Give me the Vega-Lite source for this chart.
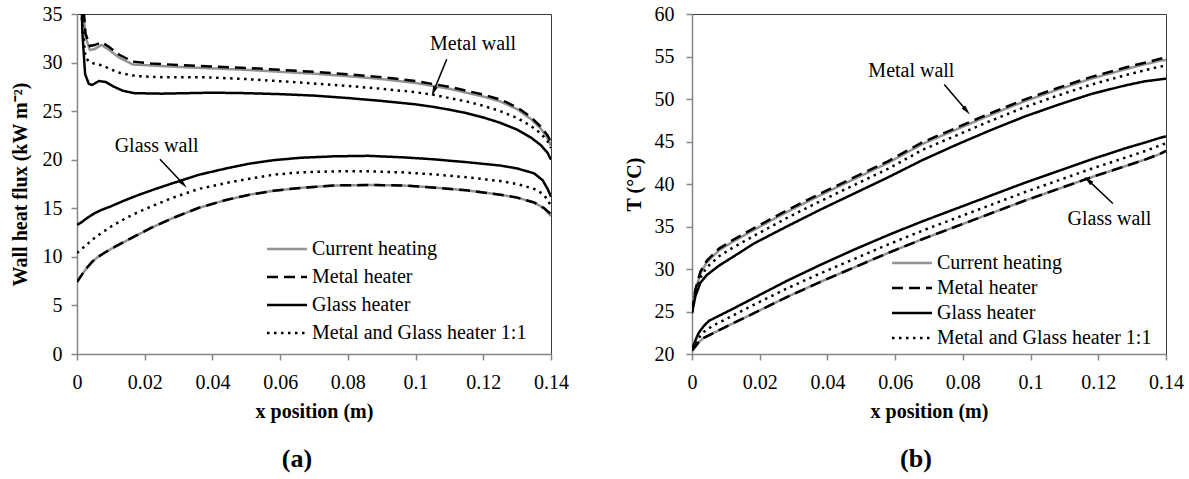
{
  "$schema": "https://vega.github.io/schema/vega-lite/v6.json",
  "padding": {"left": 9, "top": 3, "right": 0, "bottom": 0},
  "config": {
    "font": "Liberation Serif",
    "view": {"stroke": "#3a3a3a", "strokeWidth": 1},
    "axis": {
      "grid": false,
      "zindex": 1,
      "domainColor": "#868686",
      "domainWidth": 1.5,
      "tickColor": "#868686",
      "tickWidth": 1.5,
      "tickSize": 6,
      "labelFont": "Liberation Serif",
      "labelFontSize": 20,
      "labelColor": "#000000",
      "labelFlush": false,
      "labelOverlap": false,
      "titleFont": "Liberation Serif",
      "titleFontSize": 20,
      "titleFontWeight": "bold",
      "titleColor": "#000000"
    },
    "axisX": {"labelPadding": 12, "titlePadding": 9},
    "legend": {
      "orient": "none",
      "symbolType": "M-1.25,0H3.75",
      "symbolSize": 256,
      "symbolStrokeWidth": 2.5,
      "symbolOffset": 0,
      "labelFont": "Liberation Serif",
      "labelFontSize": 20,
      "labelColor": "#000000",
      "labelLimit": 400,
      "labelOffset": 25
    },
    "title": {"font": "Liberation Serif", "fontSize": 26, "fontWeight": "bold", "color": "#000000", "orient": "bottom", "anchor": "middle"},
    "concat": {"spacing": 54}
  },
  "datasets": {
    "flux": [
      {"heater": "Current heating", "wall": "Metal wall", "x": 0.0006, "y": 44},
      {"heater": "Current heating", "wall": "Metal wall", "x": 0.0015, "y": 37},
      {"heater": "Current heating", "wall": "Metal wall", "x": 0.0025, "y": 32.6},
      {"heater": "Current heating", "wall": "Metal wall", "x": 0.0038, "y": 31.3},
      {"heater": "Current heating", "wall": "Metal wall", "x": 0.0052, "y": 31.4},
      {"heater": "Current heating", "wall": "Metal wall", "x": 0.0073, "y": 31.8},
      {"heater": "Current heating", "wall": "Metal wall", "x": 0.0095, "y": 31.3},
      {"heater": "Current heating", "wall": "Metal wall", "x": 0.0125, "y": 30.5},
      {"heater": "Current heating", "wall": "Metal wall", "x": 0.0165, "y": 29.8},
      {"heater": "Current heating", "wall": "Metal wall", "x": 0.022, "y": 29.7},
      {"heater": "Current heating", "wall": "Metal wall", "x": 0.03, "y": 29.55},
      {"heater": "Current heating", "wall": "Metal wall", "x": 0.04, "y": 29.4},
      {"heater": "Current heating", "wall": "Metal wall", "x": 0.05, "y": 29.25},
      {"heater": "Current heating", "wall": "Metal wall", "x": 0.06, "y": 29.05},
      {"heater": "Current heating", "wall": "Metal wall", "x": 0.07, "y": 28.85},
      {"heater": "Current heating", "wall": "Metal wall", "x": 0.08, "y": 28.6},
      {"heater": "Current heating", "wall": "Metal wall", "x": 0.09, "y": 28.3},
      {"heater": "Current heating", "wall": "Metal wall", "x": 0.1, "y": 27.9},
      {"heater": "Current heating", "wall": "Metal wall", "x": 0.105, "y": 27.6},
      {"heater": "Current heating", "wall": "Metal wall", "x": 0.11, "y": 27.3},
      {"heater": "Current heating", "wall": "Metal wall", "x": 0.115, "y": 26.9},
      {"heater": "Current heating", "wall": "Metal wall", "x": 0.12, "y": 26.5},
      {"heater": "Current heating", "wall": "Metal wall", "x": 0.125, "y": 26.0},
      {"heater": "Current heating", "wall": "Metal wall", "x": 0.13, "y": 25.2},
      {"heater": "Current heating", "wall": "Metal wall", "x": 0.134, "y": 24.2},
      {"heater": "Current heating", "wall": "Metal wall", "x": 0.137, "y": 23.2},
      {"heater": "Current heating", "wall": "Metal wall", "x": 0.139, "y": 22.2},
      {"heater": "Current heating", "wall": "Metal wall", "x": 0.14, "y": 21.4},
      {"heater": "Current heating", "wall": "Glass wall", "x": 0, "y": 7.4},
      {"heater": "Current heating", "wall": "Glass wall", "x": 0.0015, "y": 8.2},
      {"heater": "Current heating", "wall": "Glass wall", "x": 0.003, "y": 8.9},
      {"heater": "Current heating", "wall": "Glass wall", "x": 0.0045, "y": 9.5},
      {"heater": "Current heating", "wall": "Glass wall", "x": 0.006, "y": 9.95},
      {"heater": "Current heating", "wall": "Glass wall", "x": 0.0085, "y": 10.5},
      {"heater": "Current heating", "wall": "Glass wall", "x": 0.011, "y": 11.0},
      {"heater": "Current heating", "wall": "Glass wall", "x": 0.014, "y": 11.55},
      {"heater": "Current heating", "wall": "Glass wall", "x": 0.017, "y": 12.1},
      {"heater": "Current heating", "wall": "Glass wall", "x": 0.022, "y": 13.0},
      {"heater": "Current heating", "wall": "Glass wall", "x": 0.028, "y": 13.95},
      {"heater": "Current heating", "wall": "Glass wall", "x": 0.036, "y": 15.05},
      {"heater": "Current heating", "wall": "Glass wall", "x": 0.044, "y": 15.85},
      {"heater": "Current heating", "wall": "Glass wall", "x": 0.051, "y": 16.4},
      {"heater": "Current heating", "wall": "Glass wall", "x": 0.058, "y": 16.8},
      {"heater": "Current heating", "wall": "Glass wall", "x": 0.066, "y": 17.1},
      {"heater": "Current heating", "wall": "Glass wall", "x": 0.076, "y": 17.35},
      {"heater": "Current heating", "wall": "Glass wall", "x": 0.086, "y": 17.4},
      {"heater": "Current heating", "wall": "Glass wall", "x": 0.096, "y": 17.35},
      {"heater": "Current heating", "wall": "Glass wall", "x": 0.105, "y": 17.15},
      {"heater": "Current heating", "wall": "Glass wall", "x": 0.115, "y": 16.85},
      {"heater": "Current heating", "wall": "Glass wall", "x": 0.125, "y": 16.4},
      {"heater": "Current heating", "wall": "Glass wall", "x": 0.13, "y": 16.1},
      {"heater": "Current heating", "wall": "Glass wall", "x": 0.135, "y": 15.6},
      {"heater": "Current heating", "wall": "Glass wall", "x": 0.138, "y": 15.0},
      {"heater": "Current heating", "wall": "Glass wall", "x": 0.14, "y": 14.2},
      {"heater": "Metal heater", "wall": "Metal wall", "x": 0.0006, "y": 44},
      {"heater": "Metal heater", "wall": "Metal wall", "x": 0.0015, "y": 37.5},
      {"heater": "Metal heater", "wall": "Metal wall", "x": 0.0025, "y": 33.0},
      {"heater": "Metal heater", "wall": "Metal wall", "x": 0.0038, "y": 31.7},
      {"heater": "Metal heater", "wall": "Metal wall", "x": 0.0052, "y": 31.8},
      {"heater": "Metal heater", "wall": "Metal wall", "x": 0.0073, "y": 32.1},
      {"heater": "Metal heater", "wall": "Metal wall", "x": 0.0095, "y": 31.6},
      {"heater": "Metal heater", "wall": "Metal wall", "x": 0.0125, "y": 30.8},
      {"heater": "Metal heater", "wall": "Metal wall", "x": 0.0165, "y": 30.1},
      {"heater": "Metal heater", "wall": "Metal wall", "x": 0.022, "y": 29.9},
      {"heater": "Metal heater", "wall": "Metal wall", "x": 0.03, "y": 29.75},
      {"heater": "Metal heater", "wall": "Metal wall", "x": 0.04, "y": 29.6},
      {"heater": "Metal heater", "wall": "Metal wall", "x": 0.05, "y": 29.45},
      {"heater": "Metal heater", "wall": "Metal wall", "x": 0.06, "y": 29.25},
      {"heater": "Metal heater", "wall": "Metal wall", "x": 0.07, "y": 29.05},
      {"heater": "Metal heater", "wall": "Metal wall", "x": 0.08, "y": 28.8},
      {"heater": "Metal heater", "wall": "Metal wall", "x": 0.09, "y": 28.5},
      {"heater": "Metal heater", "wall": "Metal wall", "x": 0.1, "y": 28.1},
      {"heater": "Metal heater", "wall": "Metal wall", "x": 0.105, "y": 27.8},
      {"heater": "Metal heater", "wall": "Metal wall", "x": 0.11, "y": 27.5},
      {"heater": "Metal heater", "wall": "Metal wall", "x": 0.115, "y": 27.1},
      {"heater": "Metal heater", "wall": "Metal wall", "x": 0.12, "y": 26.7},
      {"heater": "Metal heater", "wall": "Metal wall", "x": 0.125, "y": 26.2},
      {"heater": "Metal heater", "wall": "Metal wall", "x": 0.13, "y": 25.4},
      {"heater": "Metal heater", "wall": "Metal wall", "x": 0.134, "y": 24.4},
      {"heater": "Metal heater", "wall": "Metal wall", "x": 0.137, "y": 23.4},
      {"heater": "Metal heater", "wall": "Metal wall", "x": 0.139, "y": 22.5},
      {"heater": "Metal heater", "wall": "Metal wall", "x": 0.14, "y": 21.8},
      {"heater": "Metal heater", "wall": "Glass wall", "x": 0, "y": 7.4},
      {"heater": "Metal heater", "wall": "Glass wall", "x": 0.0015, "y": 8.2},
      {"heater": "Metal heater", "wall": "Glass wall", "x": 0.003, "y": 8.9},
      {"heater": "Metal heater", "wall": "Glass wall", "x": 0.0045, "y": 9.5},
      {"heater": "Metal heater", "wall": "Glass wall", "x": 0.006, "y": 9.95},
      {"heater": "Metal heater", "wall": "Glass wall", "x": 0.0085, "y": 10.5},
      {"heater": "Metal heater", "wall": "Glass wall", "x": 0.011, "y": 11.0},
      {"heater": "Metal heater", "wall": "Glass wall", "x": 0.014, "y": 11.55},
      {"heater": "Metal heater", "wall": "Glass wall", "x": 0.017, "y": 12.1},
      {"heater": "Metal heater", "wall": "Glass wall", "x": 0.022, "y": 13.0},
      {"heater": "Metal heater", "wall": "Glass wall", "x": 0.028, "y": 13.95},
      {"heater": "Metal heater", "wall": "Glass wall", "x": 0.036, "y": 15.05},
      {"heater": "Metal heater", "wall": "Glass wall", "x": 0.044, "y": 15.85},
      {"heater": "Metal heater", "wall": "Glass wall", "x": 0.051, "y": 16.4},
      {"heater": "Metal heater", "wall": "Glass wall", "x": 0.058, "y": 16.8},
      {"heater": "Metal heater", "wall": "Glass wall", "x": 0.066, "y": 17.1},
      {"heater": "Metal heater", "wall": "Glass wall", "x": 0.076, "y": 17.35},
      {"heater": "Metal heater", "wall": "Glass wall", "x": 0.086, "y": 17.4},
      {"heater": "Metal heater", "wall": "Glass wall", "x": 0.096, "y": 17.35},
      {"heater": "Metal heater", "wall": "Glass wall", "x": 0.105, "y": 17.15},
      {"heater": "Metal heater", "wall": "Glass wall", "x": 0.115, "y": 16.85},
      {"heater": "Metal heater", "wall": "Glass wall", "x": 0.125, "y": 16.4},
      {"heater": "Metal heater", "wall": "Glass wall", "x": 0.13, "y": 16.1},
      {"heater": "Metal heater", "wall": "Glass wall", "x": 0.135, "y": 15.6},
      {"heater": "Metal heater", "wall": "Glass wall", "x": 0.138, "y": 15.0},
      {"heater": "Metal heater", "wall": "Glass wall", "x": 0.14, "y": 14.4},
      {"heater": "Glass heater", "wall": "Metal wall", "x": 0.0008, "y": 44},
      {"heater": "Glass heater", "wall": "Metal wall", "x": 0.0016, "y": 33},
      {"heater": "Glass heater", "wall": "Metal wall", "x": 0.0024, "y": 28.8},
      {"heater": "Glass heater", "wall": "Metal wall", "x": 0.0035, "y": 27.8},
      {"heater": "Glass heater", "wall": "Metal wall", "x": 0.0045, "y": 27.7},
      {"heater": "Glass heater", "wall": "Metal wall", "x": 0.0065, "y": 28.1},
      {"heater": "Glass heater", "wall": "Metal wall", "x": 0.0085, "y": 28.0},
      {"heater": "Glass heater", "wall": "Metal wall", "x": 0.011, "y": 27.5},
      {"heater": "Glass heater", "wall": "Metal wall", "x": 0.0135, "y": 27.1},
      {"heater": "Glass heater", "wall": "Metal wall", "x": 0.017, "y": 26.85},
      {"heater": "Glass heater", "wall": "Metal wall", "x": 0.025, "y": 26.8},
      {"heater": "Glass heater", "wall": "Metal wall", "x": 0.04, "y": 26.9},
      {"heater": "Glass heater", "wall": "Metal wall", "x": 0.05, "y": 26.85},
      {"heater": "Glass heater", "wall": "Metal wall", "x": 0.06, "y": 26.75},
      {"heater": "Glass heater", "wall": "Metal wall", "x": 0.07, "y": 26.6},
      {"heater": "Glass heater", "wall": "Metal wall", "x": 0.08, "y": 26.35},
      {"heater": "Glass heater", "wall": "Metal wall", "x": 0.09, "y": 26.05},
      {"heater": "Glass heater", "wall": "Metal wall", "x": 0.1, "y": 25.7},
      {"heater": "Glass heater", "wall": "Metal wall", "x": 0.105, "y": 25.45},
      {"heater": "Glass heater", "wall": "Metal wall", "x": 0.11, "y": 25.15},
      {"heater": "Glass heater", "wall": "Metal wall", "x": 0.115, "y": 24.8},
      {"heater": "Glass heater", "wall": "Metal wall", "x": 0.12, "y": 24.35},
      {"heater": "Glass heater", "wall": "Metal wall", "x": 0.125, "y": 23.8},
      {"heater": "Glass heater", "wall": "Metal wall", "x": 0.13, "y": 23.1},
      {"heater": "Glass heater", "wall": "Metal wall", "x": 0.134, "y": 22.3},
      {"heater": "Glass heater", "wall": "Metal wall", "x": 0.137, "y": 21.5},
      {"heater": "Glass heater", "wall": "Metal wall", "x": 0.139, "y": 20.7},
      {"heater": "Glass heater", "wall": "Metal wall", "x": 0.14, "y": 20.0},
      {"heater": "Glass heater", "wall": "Glass wall", "x": 0, "y": 13.3},
      {"heater": "Glass heater", "wall": "Glass wall", "x": 0.0015, "y": 13.6},
      {"heater": "Glass heater", "wall": "Glass wall", "x": 0.003, "y": 14.0},
      {"heater": "Glass heater", "wall": "Glass wall", "x": 0.005, "y": 14.45},
      {"heater": "Glass heater", "wall": "Glass wall", "x": 0.007, "y": 14.8},
      {"heater": "Glass heater", "wall": "Glass wall", "x": 0.01, "y": 15.2},
      {"heater": "Glass heater", "wall": "Glass wall", "x": 0.014, "y": 15.8},
      {"heater": "Glass heater", "wall": "Glass wall", "x": 0.018, "y": 16.35},
      {"heater": "Glass heater", "wall": "Glass wall", "x": 0.022, "y": 16.85},
      {"heater": "Glass heater", "wall": "Glass wall", "x": 0.028, "y": 17.55},
      {"heater": "Glass heater", "wall": "Glass wall", "x": 0.036, "y": 18.45},
      {"heater": "Glass heater", "wall": "Glass wall", "x": 0.044, "y": 19.1},
      {"heater": "Glass heater", "wall": "Glass wall", "x": 0.051, "y": 19.6},
      {"heater": "Glass heater", "wall": "Glass wall", "x": 0.058, "y": 19.95},
      {"heater": "Glass heater", "wall": "Glass wall", "x": 0.066, "y": 20.2},
      {"heater": "Glass heater", "wall": "Glass wall", "x": 0.076, "y": 20.35},
      {"heater": "Glass heater", "wall": "Glass wall", "x": 0.086, "y": 20.4},
      {"heater": "Glass heater", "wall": "Glass wall", "x": 0.096, "y": 20.25},
      {"heater": "Glass heater", "wall": "Glass wall", "x": 0.105, "y": 20.05},
      {"heater": "Glass heater", "wall": "Glass wall", "x": 0.115, "y": 19.75},
      {"heater": "Glass heater", "wall": "Glass wall", "x": 0.125, "y": 19.4},
      {"heater": "Glass heater", "wall": "Glass wall", "x": 0.13, "y": 19.1},
      {"heater": "Glass heater", "wall": "Glass wall", "x": 0.135, "y": 18.6},
      {"heater": "Glass heater", "wall": "Glass wall", "x": 0.1375, "y": 17.9},
      {"heater": "Glass heater", "wall": "Glass wall", "x": 0.139, "y": 17.0},
      {"heater": "Glass heater", "wall": "Glass wall", "x": 0.14, "y": 16.2},
      {"heater": "Metal and Glass heater 1:1", "wall": "Metal wall", "x": 0.0006, "y": 44},
      {"heater": "Metal and Glass heater 1:1", "wall": "Metal wall", "x": 0.0015, "y": 34},
      {"heater": "Metal and Glass heater 1:1", "wall": "Metal wall", "x": 0.0025, "y": 30.6},
      {"heater": "Metal and Glass heater 1:1", "wall": "Metal wall", "x": 0.0035, "y": 30.1},
      {"heater": "Metal and Glass heater 1:1", "wall": "Metal wall", "x": 0.005, "y": 29.9},
      {"heater": "Metal and Glass heater 1:1", "wall": "Metal wall", "x": 0.0075, "y": 29.7},
      {"heater": "Metal and Glass heater 1:1", "wall": "Metal wall", "x": 0.01, "y": 29.3},
      {"heater": "Metal and Glass heater 1:1", "wall": "Metal wall", "x": 0.013, "y": 28.9},
      {"heater": "Metal and Glass heater 1:1", "wall": "Metal wall", "x": 0.0176, "y": 28.6},
      {"heater": "Metal and Glass heater 1:1", "wall": "Metal wall", "x": 0.025, "y": 28.5},
      {"heater": "Metal and Glass heater 1:1", "wall": "Metal wall", "x": 0.037, "y": 28.5},
      {"heater": "Metal and Glass heater 1:1", "wall": "Metal wall", "x": 0.05, "y": 28.3},
      {"heater": "Metal and Glass heater 1:1", "wall": "Metal wall", "x": 0.066, "y": 27.95},
      {"heater": "Metal and Glass heater 1:1", "wall": "Metal wall", "x": 0.08, "y": 27.6},
      {"heater": "Metal and Glass heater 1:1", "wall": "Metal wall", "x": 0.09, "y": 27.3},
      {"heater": "Metal and Glass heater 1:1", "wall": "Metal wall", "x": 0.1, "y": 26.95},
      {"heater": "Metal and Glass heater 1:1", "wall": "Metal wall", "x": 0.105, "y": 26.7},
      {"heater": "Metal and Glass heater 1:1", "wall": "Metal wall", "x": 0.11, "y": 26.35},
      {"heater": "Metal and Glass heater 1:1", "wall": "Metal wall", "x": 0.115, "y": 26.0},
      {"heater": "Metal and Glass heater 1:1", "wall": "Metal wall", "x": 0.12, "y": 25.55},
      {"heater": "Metal and Glass heater 1:1", "wall": "Metal wall", "x": 0.125, "y": 25.0},
      {"heater": "Metal and Glass heater 1:1", "wall": "Metal wall", "x": 0.13, "y": 24.3},
      {"heater": "Metal and Glass heater 1:1", "wall": "Metal wall", "x": 0.134, "y": 23.5},
      {"heater": "Metal and Glass heater 1:1", "wall": "Metal wall", "x": 0.137, "y": 22.7},
      {"heater": "Metal and Glass heater 1:1", "wall": "Metal wall", "x": 0.139, "y": 21.9},
      {"heater": "Metal and Glass heater 1:1", "wall": "Metal wall", "x": 0.14, "y": 21.2},
      {"heater": "Metal and Glass heater 1:1", "wall": "Glass wall", "x": 0, "y": 10.4},
      {"heater": "Metal and Glass heater 1:1", "wall": "Glass wall", "x": 0.0015, "y": 10.85},
      {"heater": "Metal and Glass heater 1:1", "wall": "Glass wall", "x": 0.003, "y": 11.3},
      {"heater": "Metal and Glass heater 1:1", "wall": "Glass wall", "x": 0.005, "y": 11.9},
      {"heater": "Metal and Glass heater 1:1", "wall": "Glass wall", "x": 0.007, "y": 12.4},
      {"heater": "Metal and Glass heater 1:1", "wall": "Glass wall", "x": 0.01, "y": 13.1},
      {"heater": "Metal and Glass heater 1:1", "wall": "Glass wall", "x": 0.014, "y": 13.9},
      {"heater": "Metal and Glass heater 1:1", "wall": "Glass wall", "x": 0.018, "y": 14.6},
      {"heater": "Metal and Glass heater 1:1", "wall": "Glass wall", "x": 0.022, "y": 15.2},
      {"heater": "Metal and Glass heater 1:1", "wall": "Glass wall", "x": 0.028, "y": 16.05},
      {"heater": "Metal and Glass heater 1:1", "wall": "Glass wall", "x": 0.036, "y": 17.0},
      {"heater": "Metal and Glass heater 1:1", "wall": "Glass wall", "x": 0.044, "y": 17.6},
      {"heater": "Metal and Glass heater 1:1", "wall": "Glass wall", "x": 0.051, "y": 18.05},
      {"heater": "Metal and Glass heater 1:1", "wall": "Glass wall", "x": 0.058, "y": 18.45},
      {"heater": "Metal and Glass heater 1:1", "wall": "Glass wall", "x": 0.066, "y": 18.7},
      {"heater": "Metal and Glass heater 1:1", "wall": "Glass wall", "x": 0.076, "y": 18.8},
      {"heater": "Metal and Glass heater 1:1", "wall": "Glass wall", "x": 0.086, "y": 18.8},
      {"heater": "Metal and Glass heater 1:1", "wall": "Glass wall", "x": 0.096, "y": 18.7},
      {"heater": "Metal and Glass heater 1:1", "wall": "Glass wall", "x": 0.105, "y": 18.5},
      {"heater": "Metal and Glass heater 1:1", "wall": "Glass wall", "x": 0.115, "y": 18.2},
      {"heater": "Metal and Glass heater 1:1", "wall": "Glass wall", "x": 0.125, "y": 17.8},
      {"heater": "Metal and Glass heater 1:1", "wall": "Glass wall", "x": 0.13, "y": 17.5},
      {"heater": "Metal and Glass heater 1:1", "wall": "Glass wall", "x": 0.135, "y": 17.0},
      {"heater": "Metal and Glass heater 1:1", "wall": "Glass wall", "x": 0.1375, "y": 16.5},
      {"heater": "Metal and Glass heater 1:1", "wall": "Glass wall", "x": 0.139, "y": 15.9},
      {"heater": "Metal and Glass heater 1:1", "wall": "Glass wall", "x": 0.14, "y": 15.2}
    ],
    "temp": [
      {"heater": "Current heating", "wall": "Metal wall", "x": 0, "y": 24.9},
      {"heater": "Current heating", "wall": "Metal wall", "x": 0.001, "y": 27.4},
      {"heater": "Current heating", "wall": "Metal wall", "x": 0.0025, "y": 29.5},
      {"heater": "Current heating", "wall": "Metal wall", "x": 0.0044, "y": 30.8},
      {"heater": "Current heating", "wall": "Metal wall", "x": 0.008, "y": 32.2},
      {"heater": "Current heating", "wall": "Metal wall", "x": 0.012, "y": 33.2},
      {"heater": "Current heating", "wall": "Metal wall", "x": 0.0183, "y": 34.6},
      {"heater": "Current heating", "wall": "Metal wall", "x": 0.028, "y": 36.7},
      {"heater": "Current heating", "wall": "Metal wall", "x": 0.038, "y": 38.7},
      {"heater": "Current heating", "wall": "Metal wall", "x": 0.048, "y": 40.6},
      {"heater": "Current heating", "wall": "Metal wall", "x": 0.058, "y": 42.5},
      {"heater": "Current heating", "wall": "Metal wall", "x": 0.068, "y": 44.7},
      {"heater": "Current heating", "wall": "Metal wall", "x": 0.078, "y": 46.4},
      {"heater": "Current heating", "wall": "Metal wall", "x": 0.088, "y": 48.1},
      {"heater": "Current heating", "wall": "Metal wall", "x": 0.098, "y": 49.7},
      {"heater": "Current heating", "wall": "Metal wall", "x": 0.108, "y": 51.1},
      {"heater": "Current heating", "wall": "Metal wall", "x": 0.118, "y": 52.4},
      {"heater": "Current heating", "wall": "Metal wall", "x": 0.128, "y": 53.5},
      {"heater": "Current heating", "wall": "Metal wall", "x": 0.134, "y": 54.1},
      {"heater": "Current heating", "wall": "Metal wall", "x": 0.138, "y": 54.5},
      {"heater": "Current heating", "wall": "Metal wall", "x": 0.14, "y": 54.6},
      {"heater": "Current heating", "wall": "Glass wall", "x": 0, "y": 20.4},
      {"heater": "Current heating", "wall": "Glass wall", "x": 0.001, "y": 20.9},
      {"heater": "Current heating", "wall": "Glass wall", "x": 0.002, "y": 21.4},
      {"heater": "Current heating", "wall": "Glass wall", "x": 0.0035, "y": 21.9},
      {"heater": "Current heating", "wall": "Glass wall", "x": 0.006, "y": 22.4},
      {"heater": "Current heating", "wall": "Glass wall", "x": 0.01, "y": 23.2},
      {"heater": "Current heating", "wall": "Glass wall", "x": 0.0183, "y": 24.8},
      {"heater": "Current heating", "wall": "Glass wall", "x": 0.028, "y": 26.7},
      {"heater": "Current heating", "wall": "Glass wall", "x": 0.038, "y": 28.5},
      {"heater": "Current heating", "wall": "Glass wall", "x": 0.048, "y": 30.2},
      {"heater": "Current heating", "wall": "Glass wall", "x": 0.058, "y": 31.9},
      {"heater": "Current heating", "wall": "Glass wall", "x": 0.068, "y": 33.5},
      {"heater": "Current heating", "wall": "Glass wall", "x": 0.078, "y": 35.0},
      {"heater": "Current heating", "wall": "Glass wall", "x": 0.088, "y": 36.5},
      {"heater": "Current heating", "wall": "Glass wall", "x": 0.098, "y": 38.0},
      {"heater": "Current heating", "wall": "Glass wall", "x": 0.108, "y": 39.4},
      {"heater": "Current heating", "wall": "Glass wall", "x": 0.118, "y": 40.8},
      {"heater": "Current heating", "wall": "Glass wall", "x": 0.128, "y": 42.1},
      {"heater": "Current heating", "wall": "Glass wall", "x": 0.134, "y": 42.9},
      {"heater": "Current heating", "wall": "Glass wall", "x": 0.138, "y": 43.5},
      {"heater": "Current heating", "wall": "Glass wall", "x": 0.14, "y": 43.9},
      {"heater": "Metal heater", "wall": "Metal wall", "x": 0, "y": 25.0},
      {"heater": "Metal heater", "wall": "Metal wall", "x": 0.001, "y": 27.6},
      {"heater": "Metal heater", "wall": "Metal wall", "x": 0.0025, "y": 29.7},
      {"heater": "Metal heater", "wall": "Metal wall", "x": 0.0044, "y": 31.0},
      {"heater": "Metal heater", "wall": "Metal wall", "x": 0.008, "y": 32.4},
      {"heater": "Metal heater", "wall": "Metal wall", "x": 0.012, "y": 33.4},
      {"heater": "Metal heater", "wall": "Metal wall", "x": 0.0183, "y": 34.8},
      {"heater": "Metal heater", "wall": "Metal wall", "x": 0.028, "y": 36.9},
      {"heater": "Metal heater", "wall": "Metal wall", "x": 0.038, "y": 38.9},
      {"heater": "Metal heater", "wall": "Metal wall", "x": 0.048, "y": 40.8},
      {"heater": "Metal heater", "wall": "Metal wall", "x": 0.058, "y": 42.7},
      {"heater": "Metal heater", "wall": "Metal wall", "x": 0.068, "y": 44.9},
      {"heater": "Metal heater", "wall": "Metal wall", "x": 0.078, "y": 46.6},
      {"heater": "Metal heater", "wall": "Metal wall", "x": 0.088, "y": 48.3},
      {"heater": "Metal heater", "wall": "Metal wall", "x": 0.098, "y": 49.9},
      {"heater": "Metal heater", "wall": "Metal wall", "x": 0.108, "y": 51.3},
      {"heater": "Metal heater", "wall": "Metal wall", "x": 0.118, "y": 52.6},
      {"heater": "Metal heater", "wall": "Metal wall", "x": 0.128, "y": 53.7},
      {"heater": "Metal heater", "wall": "Metal wall", "x": 0.134, "y": 54.3},
      {"heater": "Metal heater", "wall": "Metal wall", "x": 0.138, "y": 54.7},
      {"heater": "Metal heater", "wall": "Metal wall", "x": 0.14, "y": 54.9},
      {"heater": "Metal heater", "wall": "Glass wall", "x": 0, "y": 20.4},
      {"heater": "Metal heater", "wall": "Glass wall", "x": 0.001, "y": 20.9},
      {"heater": "Metal heater", "wall": "Glass wall", "x": 0.002, "y": 21.4},
      {"heater": "Metal heater", "wall": "Glass wall", "x": 0.0035, "y": 21.9},
      {"heater": "Metal heater", "wall": "Glass wall", "x": 0.006, "y": 22.4},
      {"heater": "Metal heater", "wall": "Glass wall", "x": 0.01, "y": 23.2},
      {"heater": "Metal heater", "wall": "Glass wall", "x": 0.0183, "y": 24.8},
      {"heater": "Metal heater", "wall": "Glass wall", "x": 0.028, "y": 26.7},
      {"heater": "Metal heater", "wall": "Glass wall", "x": 0.038, "y": 28.5},
      {"heater": "Metal heater", "wall": "Glass wall", "x": 0.048, "y": 30.2},
      {"heater": "Metal heater", "wall": "Glass wall", "x": 0.058, "y": 31.9},
      {"heater": "Metal heater", "wall": "Glass wall", "x": 0.068, "y": 33.5},
      {"heater": "Metal heater", "wall": "Glass wall", "x": 0.078, "y": 35.0},
      {"heater": "Metal heater", "wall": "Glass wall", "x": 0.088, "y": 36.5},
      {"heater": "Metal heater", "wall": "Glass wall", "x": 0.098, "y": 38.0},
      {"heater": "Metal heater", "wall": "Glass wall", "x": 0.108, "y": 39.4},
      {"heater": "Metal heater", "wall": "Glass wall", "x": 0.118, "y": 40.8},
      {"heater": "Metal heater", "wall": "Glass wall", "x": 0.128, "y": 42.1},
      {"heater": "Metal heater", "wall": "Glass wall", "x": 0.134, "y": 42.9},
      {"heater": "Metal heater", "wall": "Glass wall", "x": 0.138, "y": 43.5},
      {"heater": "Metal heater", "wall": "Glass wall", "x": 0.14, "y": 43.9},
      {"heater": "Glass heater", "wall": "Metal wall", "x": 0, "y": 24.8},
      {"heater": "Glass heater", "wall": "Metal wall", "x": 0.001, "y": 26.8},
      {"heater": "Glass heater", "wall": "Metal wall", "x": 0.0025, "y": 28.4},
      {"heater": "Glass heater", "wall": "Metal wall", "x": 0.0044, "y": 29.3},
      {"heater": "Glass heater", "wall": "Metal wall", "x": 0.008, "y": 30.4},
      {"heater": "Glass heater", "wall": "Metal wall", "x": 0.012, "y": 31.4},
      {"heater": "Glass heater", "wall": "Metal wall", "x": 0.0183, "y": 33.0},
      {"heater": "Glass heater", "wall": "Metal wall", "x": 0.028, "y": 35.0},
      {"heater": "Glass heater", "wall": "Metal wall", "x": 0.038, "y": 37.0},
      {"heater": "Glass heater", "wall": "Metal wall", "x": 0.048, "y": 38.9},
      {"heater": "Glass heater", "wall": "Metal wall", "x": 0.058, "y": 40.8},
      {"heater": "Glass heater", "wall": "Metal wall", "x": 0.068, "y": 42.8},
      {"heater": "Glass heater", "wall": "Metal wall", "x": 0.078, "y": 44.6},
      {"heater": "Glass heater", "wall": "Metal wall", "x": 0.088, "y": 46.3},
      {"heater": "Glass heater", "wall": "Metal wall", "x": 0.098, "y": 47.9},
      {"heater": "Glass heater", "wall": "Metal wall", "x": 0.108, "y": 49.3},
      {"heater": "Glass heater", "wall": "Metal wall", "x": 0.118, "y": 50.6},
      {"heater": "Glass heater", "wall": "Metal wall", "x": 0.128, "y": 51.6},
      {"heater": "Glass heater", "wall": "Metal wall", "x": 0.134, "y": 52.1},
      {"heater": "Glass heater", "wall": "Metal wall", "x": 0.138, "y": 52.3},
      {"heater": "Glass heater", "wall": "Metal wall", "x": 0.14, "y": 52.4},
      {"heater": "Glass heater", "wall": "Glass wall", "x": 0, "y": 20.5},
      {"heater": "Glass heater", "wall": "Glass wall", "x": 0.001, "y": 21.6},
      {"heater": "Glass heater", "wall": "Glass wall", "x": 0.002, "y": 22.5},
      {"heater": "Glass heater", "wall": "Glass wall", "x": 0.0035, "y": 23.3},
      {"heater": "Glass heater", "wall": "Glass wall", "x": 0.005, "y": 23.9},
      {"heater": "Glass heater", "wall": "Glass wall", "x": 0.008, "y": 24.5},
      {"heater": "Glass heater", "wall": "Glass wall", "x": 0.012, "y": 25.3},
      {"heater": "Glass heater", "wall": "Glass wall", "x": 0.0183, "y": 26.6},
      {"heater": "Glass heater", "wall": "Glass wall", "x": 0.028, "y": 28.6},
      {"heater": "Glass heater", "wall": "Glass wall", "x": 0.038, "y": 30.5},
      {"heater": "Glass heater", "wall": "Glass wall", "x": 0.048, "y": 32.3},
      {"heater": "Glass heater", "wall": "Glass wall", "x": 0.058, "y": 34.0},
      {"heater": "Glass heater", "wall": "Glass wall", "x": 0.068, "y": 35.6},
      {"heater": "Glass heater", "wall": "Glass wall", "x": 0.078, "y": 37.1},
      {"heater": "Glass heater", "wall": "Glass wall", "x": 0.088, "y": 38.6},
      {"heater": "Glass heater", "wall": "Glass wall", "x": 0.098, "y": 40.1},
      {"heater": "Glass heater", "wall": "Glass wall", "x": 0.108, "y": 41.5},
      {"heater": "Glass heater", "wall": "Glass wall", "x": 0.118, "y": 42.9},
      {"heater": "Glass heater", "wall": "Glass wall", "x": 0.128, "y": 44.2},
      {"heater": "Glass heater", "wall": "Glass wall", "x": 0.134, "y": 44.9},
      {"heater": "Glass heater", "wall": "Glass wall", "x": 0.138, "y": 45.4},
      {"heater": "Glass heater", "wall": "Glass wall", "x": 0.14, "y": 45.6},
      {"heater": "Metal and Glass heater 1:1", "wall": "Metal wall", "x": 0, "y": 25.0},
      {"heater": "Metal and Glass heater 1:1", "wall": "Metal wall", "x": 0.001, "y": 27.2},
      {"heater": "Metal and Glass heater 1:1", "wall": "Metal wall", "x": 0.0025, "y": 29.0},
      {"heater": "Metal and Glass heater 1:1", "wall": "Metal wall", "x": 0.0044, "y": 30.2},
      {"heater": "Metal and Glass heater 1:1", "wall": "Metal wall", "x": 0.008, "y": 31.5},
      {"heater": "Metal and Glass heater 1:1", "wall": "Metal wall", "x": 0.012, "y": 32.5},
      {"heater": "Metal and Glass heater 1:1", "wall": "Metal wall", "x": 0.0183, "y": 33.9},
      {"heater": "Metal and Glass heater 1:1", "wall": "Metal wall", "x": 0.028, "y": 36.0},
      {"heater": "Metal and Glass heater 1:1", "wall": "Metal wall", "x": 0.038, "y": 38.0},
      {"heater": "Metal and Glass heater 1:1", "wall": "Metal wall", "x": 0.048, "y": 39.9},
      {"heater": "Metal and Glass heater 1:1", "wall": "Metal wall", "x": 0.058, "y": 41.8},
      {"heater": "Metal and Glass heater 1:1", "wall": "Metal wall", "x": 0.068, "y": 44.0},
      {"heater": "Metal and Glass heater 1:1", "wall": "Metal wall", "x": 0.078, "y": 45.7},
      {"heater": "Metal and Glass heater 1:1", "wall": "Metal wall", "x": 0.088, "y": 47.4},
      {"heater": "Metal and Glass heater 1:1", "wall": "Metal wall", "x": 0.098, "y": 49.0},
      {"heater": "Metal and Glass heater 1:1", "wall": "Metal wall", "x": 0.108, "y": 50.4},
      {"heater": "Metal and Glass heater 1:1", "wall": "Metal wall", "x": 0.118, "y": 51.7},
      {"heater": "Metal and Glass heater 1:1", "wall": "Metal wall", "x": 0.128, "y": 52.8},
      {"heater": "Metal and Glass heater 1:1", "wall": "Metal wall", "x": 0.134, "y": 53.4},
      {"heater": "Metal and Glass heater 1:1", "wall": "Metal wall", "x": 0.138, "y": 53.8},
      {"heater": "Metal and Glass heater 1:1", "wall": "Metal wall", "x": 0.14, "y": 53.9},
      {"heater": "Metal and Glass heater 1:1", "wall": "Glass wall", "x": 0, "y": 20.5},
      {"heater": "Metal and Glass heater 1:1", "wall": "Glass wall", "x": 0.001, "y": 21.2},
      {"heater": "Metal and Glass heater 1:1", "wall": "Glass wall", "x": 0.002, "y": 21.9},
      {"heater": "Metal and Glass heater 1:1", "wall": "Glass wall", "x": 0.0035, "y": 22.6},
      {"heater": "Metal and Glass heater 1:1", "wall": "Glass wall", "x": 0.006, "y": 23.3},
      {"heater": "Metal and Glass heater 1:1", "wall": "Glass wall", "x": 0.01, "y": 24.1},
      {"heater": "Metal and Glass heater 1:1", "wall": "Glass wall", "x": 0.0183, "y": 25.8},
      {"heater": "Metal and Glass heater 1:1", "wall": "Glass wall", "x": 0.028, "y": 27.7},
      {"heater": "Metal and Glass heater 1:1", "wall": "Glass wall", "x": 0.038, "y": 29.5},
      {"heater": "Metal and Glass heater 1:1", "wall": "Glass wall", "x": 0.048, "y": 31.2},
      {"heater": "Metal and Glass heater 1:1", "wall": "Glass wall", "x": 0.058, "y": 32.9},
      {"heater": "Metal and Glass heater 1:1", "wall": "Glass wall", "x": 0.068, "y": 34.5},
      {"heater": "Metal and Glass heater 1:1", "wall": "Glass wall", "x": 0.078, "y": 36.0},
      {"heater": "Metal and Glass heater 1:1", "wall": "Glass wall", "x": 0.088, "y": 37.5},
      {"heater": "Metal and Glass heater 1:1", "wall": "Glass wall", "x": 0.098, "y": 39.0},
      {"heater": "Metal and Glass heater 1:1", "wall": "Glass wall", "x": 0.108, "y": 40.4},
      {"heater": "Metal and Glass heater 1:1", "wall": "Glass wall", "x": 0.118, "y": 41.8},
      {"heater": "Metal and Glass heater 1:1", "wall": "Glass wall", "x": 0.128, "y": 43.1},
      {"heater": "Metal and Glass heater 1:1", "wall": "Glass wall", "x": 0.134, "y": 43.9},
      {"heater": "Metal and Glass heater 1:1", "wall": "Glass wall", "x": 0.138, "y": 44.5},
      {"heater": "Metal and Glass heater 1:1", "wall": "Glass wall", "x": 0.14, "y": 44.8}
    ],
    "notesA": [
      {"label": "Metal wall", "x": 0.117, "y": 31.9},
      {"label": "Glass wall", "x": 0.0235, "y": 21.4}
    ],
    "arrowsA": [
      {"label": "Metal wall", "x": 0.1092, "y": 30.35, "x2": 0.10535, "y2": 27.06},
      {"label": "Glass wall", "x": 0.0245, "y": 20.05, "x2": 0.03134, "y2": 17.52}
    ],
    "notesB": [
      {"label": "Metal wall", "x": 0.0648, "y": 53.3},
      {"label": "Glass wall", "x": 0.1233, "y": 35.9}
    ],
    "arrowsB": [
      {"label": "Metal wall", "x": 0.0745, "y": 51.7, "x2": 0.08107, "y2": 48.64},
      {"label": "Glass wall", "x": 0.1243, "y": 37.7, "x2": 0.11706, "y2": 40.43}
    ]
  },
  "hconcat": [
    {
      "width": 474,
      "height": 340,
      "title": {"text": "(a)", "dx": -17, "offset": 25},
      "layer": [
        {
          "data": {"name": "flux"},
          "mark": {"type": "line", "strokeWidth": 2.5, "clip": true},
          "encoding": {
            "x": {"field": "x", "type": "quantitative", "scale": {"domain": [0, 0.14], "nice": false},
                  "axis": {"values": [0, 0.02, 0.04, 0.06, 0.08, 0.1, 0.12, 0.14], "format": ".2~f", "title": "x position (m)"}},
            "y": {"field": "y", "type": "quantitative", "scale": {"domain": [0, 35], "nice": false},
                  "axis": {"values": [0, 5, 10, 15, 20, 25, 30, 35], "title": "Wall heat flux (kW m⁻²)", "labelPadding": 9, "titlePadding": 12}},
            "color": {"field": "heater", "type": "nominal",
                      "scale": {"domain": ["Current heating", "Metal heater", "Glass heater", "Metal and Glass heater 1:1"], "range": ["#939393", "#000000", "#000000", "#000000"]},
                      "legend": {"title": null, "legendX": 190, "legendY": 225, "rowPadding": 8}},
            "strokeDash": {"field": "heater", "type": "nominal",
                      "scale": {"domain": ["Current heating", "Metal heater", "Glass heater", "Metal and Glass heater 1:1"], "range": [[1, 0], [11, 6], [1, 0], [2.5, 4.5]]},
                      "legend": {"title": null, "legendX": 190, "legendY": 225, "rowPadding": 8}},
            "detail": {"field": "wall", "type": "nominal"}
          }
        },
        {
          "data": {"name": "arrowsA"},
          "mark": {"type": "rule", "strokeWidth": 1.5, "color": "#000000"},
          "encoding": {
            "x": {"field": "x", "type": "quantitative"},
            "y": {"field": "y", "type": "quantitative"},
            "x2": {"field": "x2"},
            "y2": {"field": "y2"}
          }
        },
        {
          "data": {"name": "arrowsA"},
          "transform": [{"filter": "datum.label === 'Metal wall'"}],
          "mark": {"type": "point", "shape": "M0,-1L0.45,0.9L-0.45,0.9Z", "filled": true, "size": 110, "color": "#000000", "opacity": 1, "angle": 202},
          "encoding": {
            "x": {"field": "x2", "type": "quantitative"},
            "y": {"field": "y2", "type": "quantitative"}
          }
        },
        {
          "data": {"name": "arrowsA"},
          "transform": [{"filter": "datum.label === 'Glass wall'"}],
          "mark": {"type": "point", "shape": "M0,-1L0.45,0.9L-0.45,0.9Z", "filled": true, "size": 110, "color": "#000000", "opacity": 1, "angle": 137},
          "encoding": {
            "x": {"field": "x2", "type": "quantitative"},
            "y": {"field": "y2", "type": "quantitative"}
          }
        },
        {
          "data": {"name": "notesA"},
          "mark": {"type": "text", "fontSize": 20, "color": "#000000", "align": "center", "baseline": "middle"},
          "encoding": {
            "x": {"field": "x", "type": "quantitative"},
            "y": {"field": "y", "type": "quantitative"},
            "text": {"field": "label"}
          }
        }
      ]
    },
    {
      "width": 474,
      "height": 340,
      "title": {"text": "(b)", "dx": -13, "offset": 25},
      "layer": [
        {
          "data": {"name": "temp"},
          "mark": {"type": "line", "strokeWidth": 2.5, "clip": true},
          "encoding": {
            "x": {"field": "x", "type": "quantitative", "scale": {"domain": [0, 0.14], "nice": false},
                  "axis": {"values": [0, 0.02, 0.04, 0.06, 0.08, 0.1, 0.12, 0.14], "format": ".2~f", "title": "x position (m)"}},
            "y": {"field": "y", "type": "quantitative", "scale": {"domain": [20, 60], "nice": false},
                  "axis": {"values": [20, 25, 30, 35, 40, 45, 50, 55, 60], "title": "T (°C)", "labelPadding": 12, "titlePadding": 10}},
            "color": {"field": "heater", "type": "nominal",
                      "scale": {"domain": ["Current heating", "Metal heater", "Glass heater", "Metal and Glass heater 1:1"], "range": ["#939393", "#000000", "#000000", "#000000"]},
                      "legend": {"title": null, "legendX": 200, "legendY": 239, "rowPadding": 5}},
            "strokeDash": {"field": "heater", "type": "nominal",
                      "scale": {"domain": ["Current heating", "Metal heater", "Glass heater", "Metal and Glass heater 1:1"], "range": [[1, 0], [11, 6], [1, 0], [2.5, 4.5]]},
                      "legend": {"title": null, "legendX": 200, "legendY": 239, "rowPadding": 5}},
            "detail": {"field": "wall", "type": "nominal"}
          }
        },
        {
          "data": {"name": "arrowsB"},
          "mark": {"type": "rule", "strokeWidth": 1.5, "color": "#000000"},
          "encoding": {
            "x": {"field": "x", "type": "quantitative"},
            "y": {"field": "y", "type": "quantitative"},
            "x2": {"field": "x2"},
            "y2": {"field": "y2"}
          }
        },
        {
          "data": {"name": "arrowsB"},
          "transform": [{"filter": "datum.label === 'Metal wall'"}],
          "mark": {"type": "point", "shape": "M0,-1L0.45,0.9L-0.45,0.9Z", "filled": true, "size": 110, "color": "#000000", "opacity": 1, "angle": 140},
          "encoding": {
            "x": {"field": "x2", "type": "quantitative"},
            "y": {"field": "y2", "type": "quantitative"}
          }
        },
        {
          "data": {"name": "arrowsB"},
          "transform": [{"filter": "datum.label === 'Glass wall'"}],
          "mark": {"type": "point", "shape": "M0,-1L0.45,0.9L-0.45,0.9Z", "filled": true, "size": 110, "color": "#000000", "opacity": 1, "angle": 313},
          "encoding": {
            "x": {"field": "x2", "type": "quantitative"},
            "y": {"field": "y2", "type": "quantitative"}
          }
        },
        {
          "data": {"name": "notesB"},
          "mark": {"type": "text", "fontSize": 20, "color": "#000000", "align": "center", "baseline": "middle"},
          "encoding": {
            "x": {"field": "x", "type": "quantitative"},
            "y": {"field": "y", "type": "quantitative"},
            "text": {"field": "label"}
          }
        }
      ]
    }
  ],
  "resolve": {"legend": {"color": "independent", "strokeDash": "independent"}}
}
